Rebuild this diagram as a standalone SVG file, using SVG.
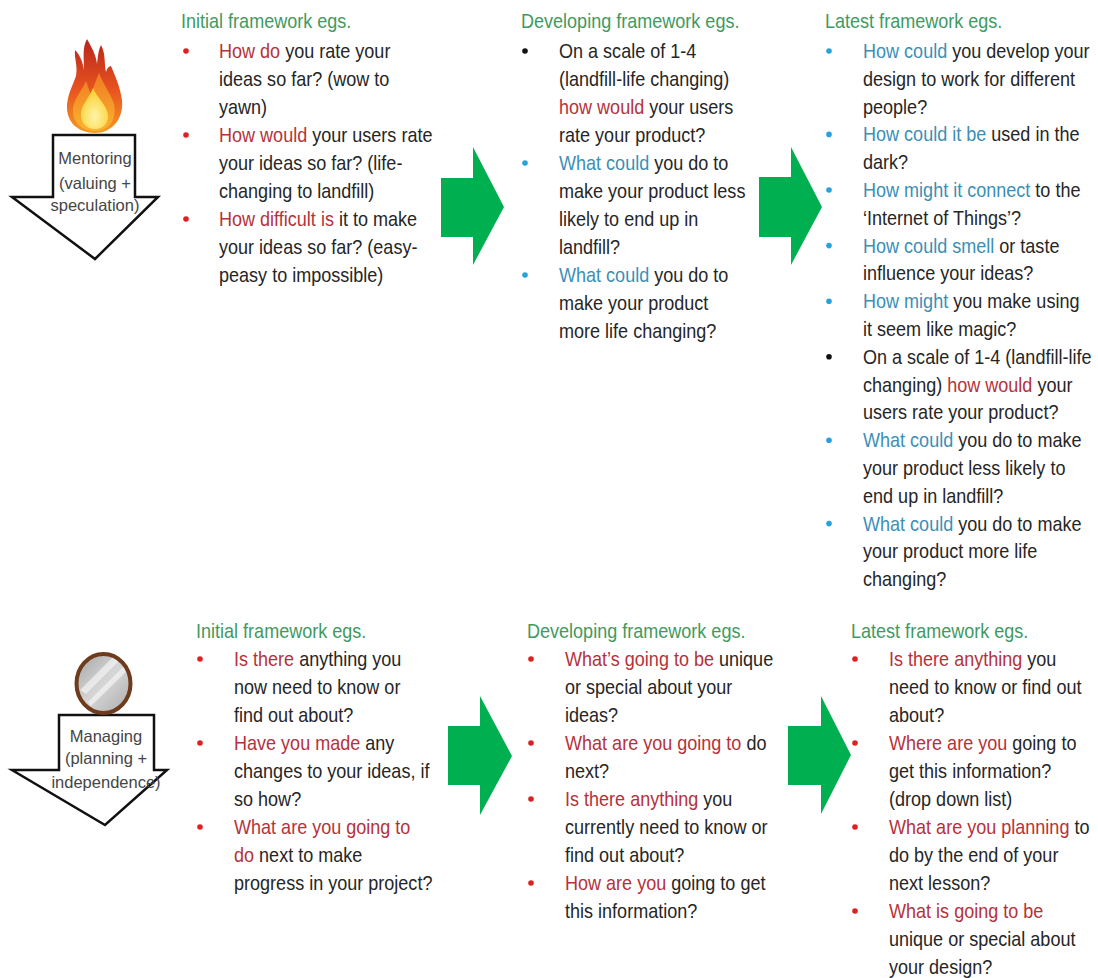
<svg xmlns="http://www.w3.org/2000/svg" width="1098" height="978" viewBox="0 0 1098 978">
  <style>
    .t { font-family: "Liberation Sans", Arial, sans-serif; font-size: 20.5px; fill: #262626; }
    .h { fill: #3f9a5f; }
    .r { fill: #b5323a; }
    .b { fill: #3b8fb5; }
    .lbl { font-family: "Liberation Sans", Arial, sans-serif; font-size: 16.5px; fill: #454545; text-anchor: middle; }
    .down { fill: #fff; stroke: #111; stroke-width: 2.5; stroke-linejoin: miter; }
    .go { fill: #00b050; }
    .br { fill: #e0201f; }
    .bb { fill: #2aa0dc; }
    .bk { fill: #111; }
  </style>
  <defs>
    <linearGradient id="flameOuter" x1="0" y1="0" x2="0" y2="1">
      <stop offset="0" stop-color="#b8241c"/>
      <stop offset="0.55" stop-color="#e8551f"/>
      <stop offset="1" stop-color="#f59a24"/>
    </linearGradient>
    <linearGradient id="flameMid" x1="0" y1="0" x2="0" y2="1">
      <stop offset="0" stop-color="#f07a22"/>
      <stop offset="1" stop-color="#f9b42e"/>
    </linearGradient>
    <radialGradient id="flameCore" cx="0.5" cy="0.7" r="0.6">
      <stop offset="0" stop-color="#fff6a8"/>
      <stop offset="1" stop-color="#fbd13a"/>
    </radialGradient>
    <linearGradient id="glass" x1="0" y1="0" x2="1" y2="1">
      <stop offset="0" stop-color="#a4a4a4"/>
      <stop offset="0.5" stop-color="#d6d6d6"/>
      <stop offset="1" stop-color="#ababab"/>
    </linearGradient>
    <clipPath id="mirrorClip">
      <ellipse cx="103.5" cy="683.5" rx="26" ry="28.5"/>
    </clipPath>
  </defs>

  <!-- Mentoring stage: flame above a down arrow -->
  <g id="mentoring">
    <path class="down" d="M53,135 H135 V197 H158 L95,259 L12,197 H53 Z"/>
    <path fill="url(#flameOuter)" d="M95,133 C78,133 66,122 67,105 C68,93 73,85 76,76 C78,66 74,58 75,50 C81,56 83,64 84,70 C84,58 82,48 87,39 C92,48 96,55 97,64 C98,57 98,51 101,45 C106,54 104,64 106,72 C107,68 109,66 111,66 C115,76 120,86 122,100 C124,120 111,133 95,133 Z"/>
    <path fill="url(#flameMid)" d="M95,131 C82,131 72,122 73,109 C74,98 82,91 86,81 C88,87 90,92 91,96 C93,88 96,80 99,73 C103,84 111,94 114,104 C117,121 108,131 95,131 Z"/>
    <path fill="url(#flameCore)" d="M95,129 C86,129 80,122 81,113 C82,104 89,98 93,88 C97,98 107,105 108,115 C109,123 103,129 95,129 Z"/>
    <text class="lbl" x="95" y="164">Mentoring</text>
    <text class="lbl" x="95" y="189">(valuing +</text>
    <text class="lbl" x="95" y="211">speculation)</text>
  </g>

  <!-- Managing stage: mirror above a down arrow -->
  <g id="managing">
    <path class="down" d="M59,715 H154 V770 H167 L105,825 L12,770 H59 Z"/>
    <ellipse cx="103.5" cy="683.5" rx="27" ry="29.5" fill="url(#glass)"/>
    <g clip-path="url(#mirrorClip)" fill="#fff" opacity="0.55">
      <polygon points="80,690 118,652 124,656 86,694"/>
      <polygon points="88,702 126,664 129,669 91,706"/>
    </g>
    <ellipse cx="103.5" cy="683.5" rx="27" ry="29.5" fill="none" stroke="#6e3b1c" stroke-width="4"/>
    <text class="lbl" x="106" y="742">Managing</text>
    <text class="lbl" x="106" y="764">(planning +</text>
    <text class="lbl" x="106" y="788">independence)</text>
  </g>

  <!-- Progression arrows between framework stages -->
  <g id="connectors">
    <polygon class="go" points="441,178 473,178 473,147 504,207 473,265 473,237 441,237"/>
    <polygon class="go" points="759,177 791,177 791,147 822,207 791,265 791,237 759,237"/>
    <polygon class="go" points="448,726 480,726 480,696 512,756 480,815 480,785 448,785"/>
    <polygon class="go" points="788,726 821,726 821,696 851,755 821,814 821,785 788,785"/>
  </g>

  <!-- Mentoring: initial framework -->
  <g id="mentoring-initial">
    <circle class="br" cx="186" cy="51" r="2.8"/>
    <circle class="br" cx="186" cy="135" r="2.8"/>
    <circle class="br" cx="186" cy="219" r="2.8"/>
    <g class="t" transform="translate(181,0) scale(0.88,1)">
      <text class="h" x="0" y="28">Initial framework egs.</text>
      <text x="43.2" y="58"><tspan class="r">How do</tspan> you rate your</text>
      <text x="43.2" y="86">ideas so far? (wow to</text>
      <text x="43.2" y="114">yawn)</text>
      <text x="43.2" y="142"><tspan class="r">How would</tspan> your users rate</text>
      <text x="43.2" y="170">your ideas so far? (life-</text>
      <text x="43.2" y="198">changing to landfill)</text>
      <text x="43.2" y="226"><tspan class="r">How difficult is</tspan> it to make</text>
      <text x="43.2" y="254">your ideas so far? (easy-</text>
      <text x="43.2" y="282">peasy to impossible)</text>
    </g>
  </g>

  <!-- Mentoring: developing framework -->
  <g id="mentoring-developing">
    <circle class="bk" cx="525" cy="51" r="2.8"/>
    <circle class="bb" cx="525" cy="163" r="2.8"/>
    <circle class="bb" cx="525" cy="275" r="2.8"/>
    <g class="t" transform="translate(521,0) scale(0.88,1)">
      <text class="h" x="0" y="28">Developing framework egs.</text>
      <text x="43.2" y="58">On a scale of 1-4</text>
      <text x="43.2" y="86">(landfill-life changing)</text>
      <text x="43.2" y="114"><tspan class="r">how would</tspan> your users</text>
      <text x="43.2" y="142">rate your product?</text>
      <text x="43.2" y="170"><tspan class="b">What could</tspan> you do to</text>
      <text x="43.2" y="198">make your product less</text>
      <text x="43.2" y="226">likely to end up in</text>
      <text x="43.2" y="254">landfill?</text>
      <text x="43.2" y="282"><tspan class="b">What could</tspan> you do to</text>
      <text x="43.2" y="310">make your product</text>
      <text x="43.2" y="338">more life changing?</text>
    </g>
  </g>

  <!-- Mentoring: latest framework -->
  <g id="mentoring-latest">
    <circle class="bb" cx="829" cy="51" r="2.8"/>
    <circle class="bb" cx="829" cy="134.4" r="2.8"/>
    <circle class="bb" cx="829" cy="190" r="2.8"/>
    <circle class="bb" cx="829" cy="245.6" r="2.8"/>
    <circle class="bb" cx="829" cy="301.2" r="2.8"/>
    <circle class="bk" cx="829" cy="356.8" r="2.8"/>
    <circle class="bb" cx="829" cy="440.2" r="2.8"/>
    <circle class="bb" cx="829" cy="523.6" r="2.8"/>
    <g class="t" transform="translate(825,0) scale(0.88,1)">
      <text class="h" x="0" y="28">Latest framework egs.</text>
      <text x="43.2" y="58"><tspan class="b">How could</tspan> you develop your</text>
      <text x="43.2" y="85.8">design to work for different</text>
      <text x="43.2" y="113.6">people?</text>
      <text x="43.2" y="141.4"><tspan class="b">How could it be</tspan> used in the</text>
      <text x="43.2" y="169.2">dark?</text>
      <text x="43.2" y="197"><tspan class="b">How might it connect</tspan> to the</text>
      <text x="43.2" y="224.8">‘Internet of Things’?</text>
      <text x="43.2" y="252.6"><tspan class="b">How could smell</tspan> or taste</text>
      <text x="43.2" y="280.4">influence your ideas?</text>
      <text x="43.2" y="308.2"><tspan class="b">How might</tspan> you make using</text>
      <text x="43.2" y="336">it seem like magic?</text>
      <text x="43.2" y="363.8">On a scale of 1-4 (landfill-life</text>
      <text x="43.2" y="391.6">changing) <tspan class="r">how would</tspan> your</text>
      <text x="43.2" y="419.4">users rate your product?</text>
      <text x="43.2" y="447.2"><tspan class="b">What could</tspan> you do to make</text>
      <text x="43.2" y="475">your product less likely to</text>
      <text x="43.2" y="502.8">end up in landfill?</text>
      <text x="43.2" y="530.6"><tspan class="b">What could</tspan> you do to make</text>
      <text x="43.2" y="558.4">your product more life</text>
      <text x="43.2" y="586.2">changing?</text>
    </g>
  </g>

  <!-- Managing: initial framework -->
  <g id="managing-initial">
    <circle class="br" cx="200" cy="659" r="2.8"/>
    <circle class="br" cx="200" cy="743" r="2.8"/>
    <circle class="br" cx="200" cy="827" r="2.8"/>
    <g class="t" transform="translate(196,0) scale(0.88,1)">
      <text class="h" x="0" y="638">Initial framework egs.</text>
      <text x="43.2" y="666"><tspan class="r">Is there</tspan> anything you</text>
      <text x="43.2" y="694">now need to know or</text>
      <text x="43.2" y="722">find out about?</text>
      <text x="43.2" y="750"><tspan class="r">Have you made</tspan> any</text>
      <text x="43.2" y="778">changes to your ideas, if</text>
      <text x="43.2" y="806">so how?</text>
      <text x="43.2" y="834" class="r">What are you going to</text>
      <text x="43.2" y="862"><tspan class="r">do</tspan> next to make</text>
      <text x="43.2" y="890">progress in your project?</text>
    </g>
  </g>

  <!-- Managing: developing framework -->
  <g id="managing-developing">
    <circle class="br" cx="531" cy="659" r="2.8"/>
    <circle class="br" cx="531" cy="743" r="2.8"/>
    <circle class="br" cx="531" cy="799" r="2.8"/>
    <circle class="br" cx="531" cy="883" r="2.8"/>
    <g class="t" transform="translate(527,0) scale(0.88,1)">
      <text class="h" x="0" y="638">Developing framework egs.</text>
      <text x="43.2" y="666"><tspan class="r">What’s going to be</tspan> unique</text>
      <text x="43.2" y="694">or special about your</text>
      <text x="43.2" y="722">ideas?</text>
      <text x="43.2" y="750"><tspan class="r">What are you going to</tspan> do</text>
      <text x="43.2" y="778">next?</text>
      <text x="43.2" y="806"><tspan class="r">Is there anything</tspan> you</text>
      <text x="43.2" y="834">currently need to know or</text>
      <text x="43.2" y="862">find out about?</text>
      <text x="43.2" y="890"><tspan class="r">How are you</tspan> going to get</text>
      <text x="43.2" y="918">this information?</text>
    </g>
  </g>

  <!-- Managing: latest framework -->
  <g id="managing-latest">
    <circle class="br" cx="855" cy="659" r="2.8"/>
    <circle class="br" cx="855" cy="743" r="2.8"/>
    <circle class="br" cx="855" cy="827" r="2.8"/>
    <circle class="br" cx="855" cy="911" r="2.8"/>
    <g class="t" transform="translate(851,0) scale(0.88,1)">
      <text class="h" x="0" y="638">Latest framework egs.</text>
      <text x="43.2" y="666"><tspan class="r">Is there anything</tspan> you</text>
      <text x="43.2" y="694">need to know or find out</text>
      <text x="43.2" y="722">about?</text>
      <text x="43.2" y="750"><tspan class="r">Where are you</tspan> going to</text>
      <text x="43.2" y="778">get this information?</text>
      <text x="43.2" y="806">(drop down list)</text>
      <text x="43.2" y="834"><tspan class="r">What are you planning</tspan> to</text>
      <text x="43.2" y="862">do by the end of your</text>
      <text x="43.2" y="890">next lesson?</text>
      <text x="43.2" y="918" class="r">What is going to be</text>
      <text x="43.2" y="946">unique or special about</text>
      <text x="43.2" y="974">your design?</text>
    </g>
  </g>
</svg>
